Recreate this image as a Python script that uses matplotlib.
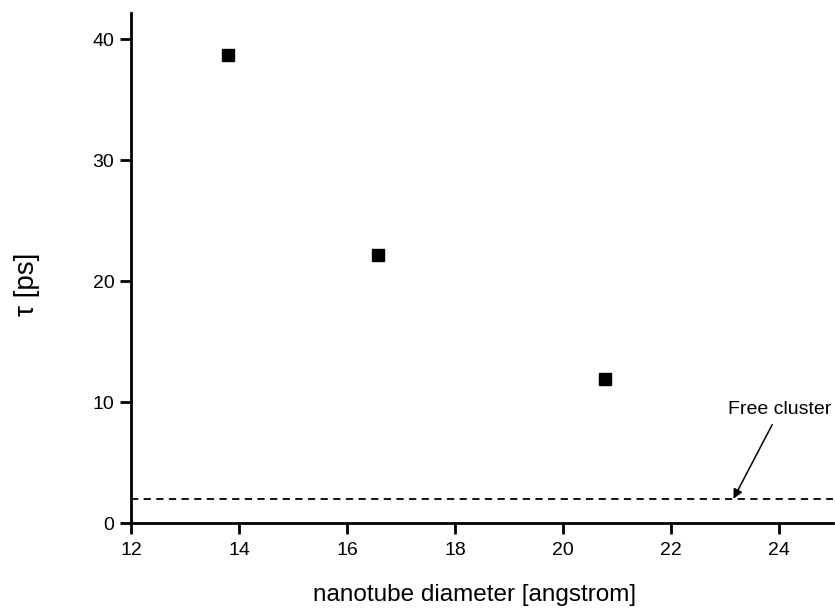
import matplotlib.pyplot as plt

plt.rcParams['font.family'] = ['Liberation Sans', 'DejaVu Sans']

# relaxation time vs tube diameter
diameter = [13.8, 16.57, 20.78]
tau = [38.7, 22.2, 11.9]
free_cluster = 2.0

fig = plt.figure(figsize=(8.35, 6.11), dpi=100)
ax = fig.add_axes([0.157, 0.144, 0.841, 0.835])

ax.plot(diameter, tau, ls='none', marker='s', ms=8.5, color='black')
ax.axhline(free_cluster, color='black', lw=1.3, ls=(0, (4, 3)))

ax.annotate('Free cluster', xy=(23.15, free_cluster), xytext=(24.97, 9.0),
            ha='right', va='baseline', fontsize=14,
            arrowprops=dict(arrowstyle='-|>', color='black', lw=1.1,
                            mutation_scale=14, shrinkA=3, shrinkB=0))

ax.set_xlim(12, 25)
ax.set_ylim(0, 42.2)
ax.set_xticks([12, 14, 16, 18, 20, 22, 24])
ax.set_yticks([0, 10, 20, 30, 40])

for s in ['top', 'right']:
    ax.spines[s].set_visible(False)
for s in ['left', 'bottom']:
    ax.spines[s].set_linewidth(2)

ax.tick_params(direction='out', length=8, width=2, labelsize=14, pad=4)
ax.tick_params(axis='x', pad=6)

ax.set_xlabel('nanotube diameter [angstrom]', fontsize=17.5)
ax.set_ylabel('τ [ps]', fontsize=20)
ax.xaxis.set_label_coords(0.489, -0.12)
ax.yaxis.set_label_coords(-0.13, 0.467)

fig.savefig('out.png', dpi=100)
